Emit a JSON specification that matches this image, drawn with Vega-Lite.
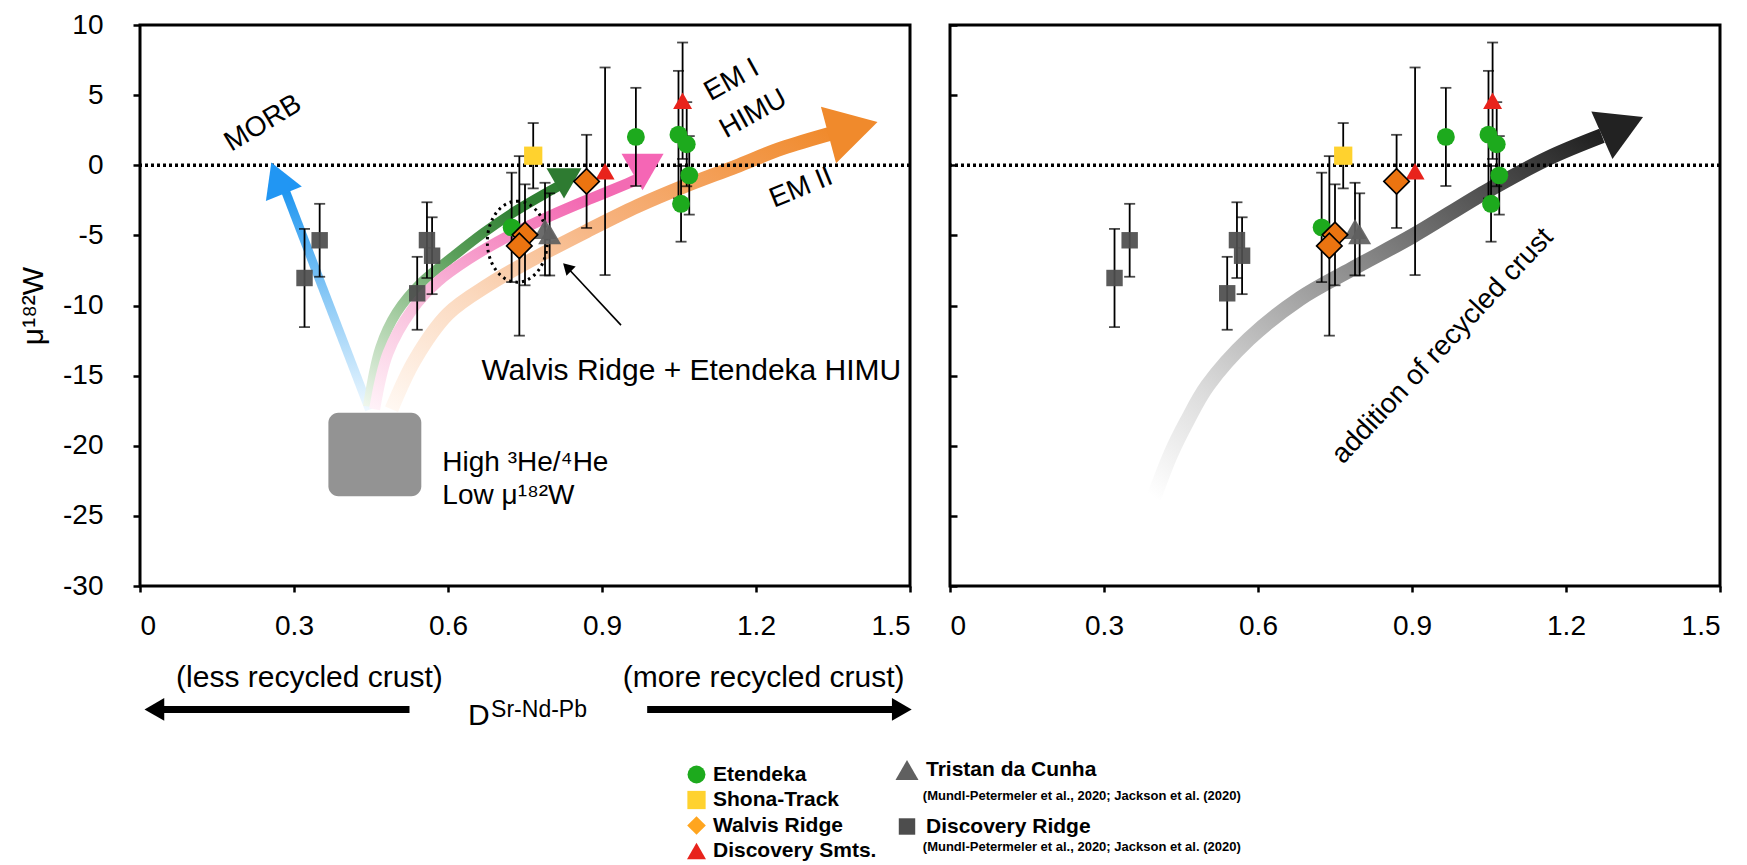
{
  "$schema": "https://vega.github.io/schema/vega-lite/v6.json",
  "background": "white",
  "padding": {"left": 17, "top": 9, "right": 5, "bottom": 0},
  "datasets": {
    "pts": [
      {"g": "Etendeka", "d": 0.724, "mu": -4.43, "err": 3.9},
      {"g": "Etendeka", "d": 0.966, "mu": 2.02, "err": 3.5},
      {"g": "Etendeka", "d": 1.049, "mu": 2.18, "err": 4.55},
      {"g": "Etendeka", "d": 1.065, "mu": 1.5, "err": 3.0},
      {"g": "Etendeka", "d": 1.07, "mu": -0.72, "err": 2.8},
      {"g": "Etendeka", "d": 1.054, "mu": -2.75, "err": 2.7},
      {"g": "Shona-Track", "d": 0.766, "mu": 0.68, "err": 2.33},
      {"g": "Walvis Ridge", "d": 0.75, "mu": -4.96, "err": 3.6},
      {"g": "Walvis Ridge", "d": 0.739, "mu": -5.75, "err": 6.4},
      {"g": "Walvis Ridge", "d": 0.87, "mu": -1.15, "err": 3.32},
      {"g": "Discovery Smts.", "d": 0.906, "mu": -0.43, "err": 7.4},
      {"g": "Discovery Smts.", "d": 1.057, "mu": 4.6, "err": 4.15},
      {"g": "Tristan da Cunha", "d": 0.789, "mu": -4.55, "err": 3.3},
      {"g": "Tristan da Cunha", "d": 0.798, "mu": -4.93, "err": 2.93},
      {"g": "Discovery Ridge", "d": 0.3205, "mu": -8.04, "err": 3.5},
      {"g": "Discovery Ridge", "d": 0.35, "mu": -5.35, "err": 2.6},
      {"g": "Discovery Ridge", "d": 0.54, "mu": -9.13, "err": 2.6},
      {"g": "Discovery Ridge", "d": 0.559, "mu": -5.34, "err": 2.7},
      {"g": "Discovery Ridge", "d": 0.569, "mu": -6.45, "err": 2.74}
    ],
    "curves": [
      {"c": "blue", "x": 0.447, "y": -17.43},
      {"c": "blue", "x": 0.283, "y": -1.8},
      {"c": "green", "x": 0.444, "y": -17.2},
      {"c": "green", "x": 0.468, "y": -13.0},
      {"c": "green", "x": 0.5, "y": -10.5},
      {"c": "green", "x": 0.55, "y": -8.3},
      {"c": "green", "x": 0.61, "y": -6.5},
      {"c": "green", "x": 0.67, "y": -4.8},
      {"c": "green", "x": 0.73, "y": -3.3},
      {"c": "green", "x": 0.79, "y": -2.0},
      {"c": "green", "x": 0.82, "y": -1.4},
      {"c": "pink", "x": 0.457, "y": -17.4},
      {"c": "pink", "x": 0.483, "y": -13.4},
      {"c": "pink", "x": 0.53, "y": -10.3},
      {"c": "pink", "x": 0.58, "y": -8.3},
      {"c": "pink", "x": 0.64, "y": -6.7},
      {"c": "pink", "x": 0.72, "y": -5.0},
      {"c": "pink", "x": 0.8, "y": -3.6},
      {"c": "pink", "x": 0.88, "y": -2.35},
      {"c": "pink", "x": 0.95, "y": -1.3},
      {"c": "pink", "x": 0.975, "y": -0.9},
      {"c": "orange", "x": 0.49, "y": -17.4},
      {"c": "orange", "x": 0.535, "y": -13.9},
      {"c": "orange", "x": 0.6, "y": -10.6},
      {"c": "orange", "x": 0.68, "y": -8.5},
      {"c": "orange", "x": 0.77, "y": -6.6},
      {"c": "orange", "x": 0.87, "y": -4.7},
      {"c": "orange", "x": 0.97, "y": -2.9},
      {"c": "orange", "x": 1.06, "y": -1.5},
      {"c": "orange", "x": 1.16, "y": -0.1},
      {"c": "orange", "x": 1.25, "y": 1.2},
      {"c": "orange", "x": 1.35, "y": 2.3},
      {"c": "black", "x": 0.397, "y": -23.7},
      {"c": "black", "x": 0.43, "y": -20.6},
      {"c": "black", "x": 0.461, "y": -18.3},
      {"c": "black", "x": 0.502, "y": -15.7},
      {"c": "black", "x": 0.582, "y": -12.4},
      {"c": "black", "x": 0.682, "y": -9.5},
      {"c": "black", "x": 0.783, "y": -7.4},
      {"c": "black", "x": 0.903, "y": -5.0},
      {"c": "black", "x": 1.043, "y": -1.9},
      {"c": "black", "x": 1.164, "y": 0.48},
      {"c": "black", "x": 1.27, "y": 2.1}
    ]
  },
  "config": {
    "view": {"stroke": "black", "strokeWidth": 3},
    "axis": {
      "grid": false, "domain": false,
      "labelFont": "Liberation Sans", "labelFontSize": 28, "labelColor": "black",
      "tickColor": "black", "tickWidth": 2.5,
      "titleFont": "Liberation Sans", "titleFontWeight": "normal", "titleColor": "black"
    },
    "text": {"font": "Liberation Sans", "color": "black"}
  },
  "spacing": 40,
  "bounds": "flush",
  "resolve": {
    "scale": {"x": "independent", "y": "independent", "color": "independent", "shape": "independent", "size": "independent"},
    "axis": {"x": "independent", "y": "independent"},
    "legend": {"color": "independent", "shape": "independent", "size": "independent"}
  },
  "hconcat": [
    {
      "width": 770,
      "height": 561,
      "resolve": {
        "scale": {"color": "independent", "shape": "independent", "size": "independent"},
        "legend": {"color": "independent", "shape": "independent", "size": "independent"}
      },
      "layer": [
        {
          "data": {"name": "curves"},
          "transform": [{"filter": "datum.c === 'blue'"}],
          "mark": {"type": "line", "strokeWidth": 9, "strokeCap": "butt",
            "stroke": {"gradient": "linear", "x1": 0, "y1": 1, "x2": 0, "y2": 0,
              "stops": [{"offset": 0, "color": "#eef8ff"}, {"offset": 0.5, "color": "#8ccaf6"}, {"offset": 1, "color": "#1f96f0"}]}},
          "encoding": {
            "x": {"field": "x", "type": "quantitative",
              "scale": {"domain": [0, 1.5], "nice": false, "zero": false},
              "axis": {"values": [0, 0.3, 0.6, 0.9, 1.2, 1.5], "labelExpr": "toString(datum.value)", "title": null, "tickSize": 6, "labelPadding": 20}},
            "y": {"field": "y", "type": "quantitative", "title": "μ¹⁸²W",
              "scale": {"domain": [-30, 10], "nice": false, "zero": false},
              "axis": {"values": [-30, -25, -20, -15, -10, -5, 0, 5, 10], "labelExpr": "toString(datum.value)", "title": "μ¹⁸²W", "titleFontSize": 30, "titlePadding": 14, "tickSize": 7, "labelPadding": 30}}
          }
        },
        {
          "data": {"name": "curves"},
          "transform": [{"filter": "datum.c === 'green'"}],
          "mark": {"type": "line", "strokeWidth": 10, "strokeCap": "butt", "interpolate": "catmull-rom",
            "stroke": {"gradient": "linear", "x1": 0, "y1": 1, "x2": 0.6, "y2": 0,
              "stops": [{"offset": 0, "color": "#eef6ec"}, {"offset": 0.35, "color": "#a9cfa6"}, {"offset": 0.7, "color": "#5a9f5a"}, {"offset": 1, "color": "#2f7f32"}]}},
          "encoding": {"x": {"field": "x", "type": "quantitative"}, "y": {"field": "y", "type": "quantitative", "title": "μ¹⁸²W"}}
        },
        {
          "data": {"name": "curves"},
          "transform": [{"filter": "datum.c === 'pink'"}],
          "mark": {"type": "line", "strokeWidth": 11, "strokeCap": "butt", "interpolate": "catmull-rom",
            "stroke": {"gradient": "linear", "x1": 0, "y1": 1, "x2": 0.6, "y2": 0,
              "stops": [{"offset": 0, "color": "#fff2f8"}, {"offset": 0.4, "color": "#f9bfdc"}, {"offset": 1, "color": "#f36bb3"}]}},
          "encoding": {"x": {"field": "x", "type": "quantitative"}, "y": {"field": "y", "type": "quantitative", "title": "μ¹⁸²W"}}
        },
        {
          "data": {"name": "curves"},
          "transform": [{"filter": "datum.c === 'orange'"}],
          "mark": {"type": "line", "strokeWidth": 14, "strokeCap": "butt", "interpolate": "catmull-rom",
            "stroke": {"gradient": "linear", "x1": 0, "y1": 1, "x2": 1, "y2": 0,
              "stops": [{"offset": 0, "color": "#fff8f2"}, {"offset": 0.3, "color": "#fbd8bd"}, {"offset": 0.6, "color": "#f6b07a"}, {"offset": 1, "color": "#f08a2c"}]}},
          "encoding": {"x": {"field": "x", "type": "quantitative"}, "y": {"field": "y", "type": "quantitative", "title": "μ¹⁸²W"}}
        },
        {
          "data": {"values": [{}]},
          "mark": {"type": "rule", "strokeDash": [3, 3], "strokeWidth": 3.5, "color": "black"},
          "encoding": {"y": {"datum": 0}}
        },
        {
          "data": {"values": [{}]},
          "mark": {"type": "point", "shape": "triangle-up", "angle": -22, "size": 1500, "filled": true, "opacity": 1, "color": "#2196f3"},
          "encoding": {"x": {"datum": 0.268}, "y": {"datum": -0.92}}
        },
        {
          "data": {"values": [{}]},
          "mark": {"type": "point", "shape": "triangle-down", "size": 1225, "filled": true, "opacity": 1, "color": "#2e7b31"},
          "encoding": {"x": {"datum": 0.826}, "y": {"datum": -1.29}}
        },
        {
          "data": {"values": [{}]},
          "mark": {"type": "point", "shape": "triangle-down", "size": 1764, "filled": true, "opacity": 1, "color": "#f566b5"},
          "encoding": {"x": {"datum": 0.979}, "y": {"datum": -0.48}}
        },
        {
          "data": {"values": [{}]},
          "mark": {"type": "point", "shape": "triangle-up", "angle": 75, "size": 3434, "filled": true, "opacity": 1, "color": "#f08a2c"},
          "encoding": {"x": {"datum": 1.389}, "y": {"datum": 2.62}}
        },
        {
          "data": {"values": [{}]},
          "mark": {"type": "point", "shape": "M0,-1C0.4087,-1 0.74,-0.5523 0.74,0C0.74,0.5523 0.4087,1 0,1C-0.4087,1 -0.74,0.5523 -0.74,0C-0.74,-0.5523 -0.4087,-1 0,-1Z", "size": 6561, "filled": false, "opacity": 1, "stroke": "black", "strokeWidth": 3, "strokeDash": [2.5, 4]},
          "encoding": {"x": {"datum": 0.735}, "y": {"datum": -5.45}}
        },
        {
          "data": {"values": [{}]},
          "mark": {"type": "rule", "color": "black", "strokeWidth": 1.6},
          "encoding": {"x": {"datum": 0.937}, "y": {"datum": -11.4}, "x2": {"datum": 0.832}, "y2": {"datum": -7.27}}
        },
        {
          "data": {"values": [{}]},
          "mark": {"type": "point", "shape": "triangle-up", "angle": -45, "size": 170, "filled": true, "opacity": 1, "color": "black"},
          "encoding": {"x": {"datum": 0.832}, "y": {"datum": -7.27}}
        },
        {
          "data": {"values": [{}]},
          "mark": {"type": "rect", "color": "#939393", "cornerRadius": 10},
          "encoding": {"x": {"datum": 0.367}, "x2": {"datum": 0.548}, "y": {"datum": -17.65}, "y2": {"datum": -23.6}}
        },
        {
          "data": {"values": [{}]},
          "mark": {"type": "text", "text": "High ³He/⁴He", "align": "left", "baseline": "middle", "fontSize": 28},
          "encoding": {"x": {"datum": 0.589}, "y": {"datum": -21.2}}
        },
        {
          "data": {"values": [{}]},
          "mark": {"type": "text", "text": "Low μ¹⁸²W", "align": "left", "baseline": "middle", "fontSize": 28},
          "encoding": {"x": {"datum": 0.589}, "y": {"datum": -23.6}}
        },
        {
          "data": {"values": [{}]},
          "mark": {"type": "text", "text": "MORB", "align": "center", "baseline": "middle", "fontSize": 28, "angle": -31},
          "encoding": {"x": {"datum": 0.24}, "y": {"datum": 2.98}}
        },
        {
          "data": {"values": [{}]},
          "mark": {"type": "text", "text": "EM I", "align": "center", "baseline": "middle", "fontSize": 28, "angle": -29},
          "encoding": {"x": {"datum": 1.153}, "y": {"datum": 6.06}}
        },
        {
          "data": {"values": [{}]},
          "mark": {"type": "text", "text": "HIMU", "align": "center", "baseline": "middle", "fontSize": 28, "angle": -29},
          "encoding": {"x": {"datum": 1.195}, "y": {"datum": 3.65}}
        },
        {
          "data": {"values": [{}]},
          "mark": {"type": "text", "text": "EM II", "align": "center", "baseline": "middle", "fontSize": 28, "angle": -22},
          "encoding": {"x": {"datum": 1.288}, "y": {"datum": -1.62}}
        },
        {
          "data": {"values": [{}]},
          "mark": {"type": "text", "text": "Walvis Ridge + Etendeka HIMU", "align": "center", "baseline": "middle", "fontSize": 30},
          "encoding": {"x": {"datum": 1.074}, "y": {"datum": -14.7}}
        },
        {
          "data": {"name": "pts"},
          "mark": {"type": "errorbar", "ticks": true, "size": 11, "thickness": 1.8, "color": "black"},
          "encoding": {"x": {"field": "d", "type": "quantitative"}, "y": {"field": "mu", "type": "quantitative", "title": "μ¹⁸²W"}, "yError": {"field": "err"}}
        },
        {
          "data": {"name": "pts"},
          "transform": [{"filter": {"field": "g", "oneOf": ["Tristan da Cunha", "Discovery Ridge"]}}],
          "mark": {"type": "point", "filled": true, "opacity": 0.93, "strokeWidth": 0},
          "encoding": {
            "x": {"field": "d", "type": "quantitative"},
            "y": {"field": "mu", "type": "quantitative", "title": "μ¹⁸²W"},
            "color": {"field": "g", "type": "nominal", "scale": {"domain": ["Tristan da Cunha", "Discovery Ridge"], "range": ["#606060", "#4d4d4d"]},
              "legend": {"orient": "none", "legendX": 755, "legendY": 733, "title": null, "symbolSize": 300, "labelFont": "Liberation Sans", "labelFontSize": 21, "labelFontWeight": "bold", "labelColor": "black", "rowPadding": 35, "labelOffset": 7, "padding": 0, "symbolStrokeWidth": 0, "symbolOpacity": 1, "labelLimit": 400}},
            "shape": {"field": "g", "type": "nominal", "scale": {"domain": ["Tristan da Cunha", "Discovery Ridge"], "range": ["triangle-up", "square"]},
              "legend": {"orient": "none", "legendX": 755, "legendY": 733, "title": null, "symbolSize": 300, "labelFont": "Liberation Sans", "labelFontSize": 21, "labelFontWeight": "bold", "labelColor": "black", "rowPadding": 35, "labelOffset": 7, "padding": 0, "symbolStrokeWidth": 0, "symbolOpacity": 1, "labelLimit": 400}},
            "size": {"field": "g", "type": "nominal", "scale": {"domain": ["Tristan da Cunha", "Discovery Ridge"], "range": [530, 270]}, "legend": null}
          }
        },
        {
          "data": {"name": "pts"},
          "transform": [{"filter": {"field": "g", "oneOf": ["Etendeka", "Shona-Track", "Walvis Ridge", "Discovery Smts."]}}],
          "mark": {"type": "point", "filled": true, "opacity": 1, "strokeWidth": 0},
          "encoding": {
            "x": {"field": "d", "type": "quantitative"},
            "y": {"field": "mu", "type": "quantitative", "title": "μ¹⁸²W"},
            "color": {"field": "g", "type": "nominal", "scale": {"domain": ["Etendeka", "Shona-Track", "Walvis Ridge", "Discovery Smts."], "range": ["#1daa1d", "#ffd22e", "#ffa51f", "#e8231c"]},
              "legend": {"orient": "none", "legendX": 546, "legendY": 739, "title": null, "symbolSize": 300, "labelFont": "Liberation Sans", "labelFontSize": 21, "labelFontWeight": "bold", "labelColor": "black", "rowPadding": 3.5, "labelOffset": 6, "padding": 0, "symbolStrokeWidth": 0, "symbolOpacity": 1, "labelLimit": 400}},
            "shape": {"field": "g", "type": "nominal", "scale": {"domain": ["Etendeka", "Shona-Track", "Walvis Ridge", "Discovery Smts."], "range": ["circle", "square", "diamond", "triangle-up"]},
              "legend": {"orient": "none", "legendX": 546, "legendY": 739, "title": null, "symbolSize": 300, "labelFont": "Liberation Sans", "labelFontSize": 21, "labelFontWeight": "bold", "labelColor": "black", "rowPadding": 3.5, "labelOffset": 6, "padding": 0, "symbolStrokeWidth": 0, "symbolOpacity": 1, "labelLimit": 400}},
            "size": {"field": "g", "type": "nominal", "scale": {"domain": ["Etendeka", "Shona-Track", "Walvis Ridge", "Discovery Smts."], "range": [320, 360, 650, 470]}, "legend": null}
          }
        },
        {
          "data": {"name": "pts"},
          "transform": [{"filter": "datum.g === 'Walvis Ridge'"}],
          "mark": {"type": "point", "shape": "diamond", "filled": true, "fill": "#eb7410", "stroke": "black", "strokeWidth": 1.6, "size": 650, "opacity": 1},
          "encoding": {"x": {"field": "d", "type": "quantitative"}, "y": {"field": "mu", "type": "quantitative", "title": "μ¹⁸²W"}}
        },
        {
          "data": {"values": [{}]},
          "mark": {"type": "text", "text": "(less recycled crust)", "align": "center", "baseline": "middle", "fontSize": 30},
          "encoding": {"x": {"datum": 0.33}, "y": {"datum": -36.55}}
        },
        {
          "data": {"values": [{}]},
          "mark": {"type": "text", "text": "(more recycled crust)", "align": "center", "baseline": "middle", "fontSize": 30},
          "encoding": {"x": {"datum": 1.215}, "y": {"datum": -36.55}}
        },
        {
          "data": {"values": [{}]},
          "mark": {"type": "rule", "color": "black", "strokeWidth": 7},
          "encoding": {"x": {"datum": 0.525}, "x2": {"datum": 0.03}, "y": {"datum": -38.8}}
        },
        {
          "data": {"values": [{}]},
          "mark": {"type": "point", "shape": "triangle-left", "size": 520, "filled": true, "opacity": 1, "color": "black"},
          "encoding": {"x": {"datum": 0.028}, "y": {"datum": -38.8}}
        },
        {
          "data": {"values": [{}]},
          "mark": {"type": "rule", "color": "black", "strokeWidth": 7},
          "encoding": {"x": {"datum": 0.988}, "x2": {"datum": 1.48}, "y": {"datum": -38.8}}
        },
        {
          "data": {"values": [{}]},
          "mark": {"type": "point", "shape": "triangle-right", "size": 520, "filled": true, "opacity": 1, "color": "black"},
          "encoding": {"x": {"datum": 1.484}, "y": {"datum": -38.8}}
        },
        {
          "data": {"values": [{}]},
          "mark": {"type": "text", "text": "D", "align": "right", "baseline": "alphabetic", "fontSize": 30},
          "encoding": {"x": {"datum": 0.681}, "y": {"datum": -39.9}}
        },
        {
          "data": {"values": [{}]},
          "mark": {"type": "text", "text": "Sr-Nd-Pb", "align": "left", "baseline": "alphabetic", "fontSize": 23},
          "encoding": {"x": {"datum": 0.684}, "y": {"datum": -39.35}}
        },
        {
          "data": {"values": [{}]},
          "mark": {"type": "text", "text": "(Mundl-Petermeler et al., 2020; Jackson et al. (2020)", "align": "left", "baseline": "middle", "fontSize": 13, "fontWeight": "bold"},
          "encoding": {"x": {"datum": 1.525}, "y": {"datum": -45.0}}
        },
        {
          "data": {"values": [{}]},
          "mark": {"type": "text", "text": "(Mundl-Petermeler et al., 2020; Jackson et al. (2020)", "align": "left", "baseline": "middle", "fontSize": 13, "fontWeight": "bold"},
          "encoding": {"x": {"datum": 1.525}, "y": {"datum": -48.6}}
        }
      ]
    },
    {
      "width": 770,
      "height": 561,
      "resolve": {
        "scale": {"color": "independent", "shape": "independent", "size": "independent"},
        "legend": {"color": "independent", "shape": "independent", "size": "independent"}
      },
      "layer": [
        {
          "data": {"name": "curves"},
          "transform": [{"filter": "datum.c === 'black'"}],
          "mark": {"type": "line", "strokeWidth": 15, "strokeCap": "butt", "interpolate": "catmull-rom",
            "stroke": {"gradient": "linear", "x1": 0, "y1": 1, "x2": 1, "y2": 0,
              "stops": [{"offset": 0, "color": "#ffffff"}, {"offset": 0.2, "color": "#dcdcdc"}, {"offset": 0.55, "color": "#8a8a8a"}, {"offset": 1, "color": "#1f1f1f"}]}},
          "encoding": {
            "x": {"field": "x", "type": "quantitative",
              "scale": {"domain": [0, 1.5], "nice": false, "zero": false},
              "axis": {"values": [0, 0.3, 0.6, 0.9, 1.2, 1.5], "labelExpr": "toString(datum.value)", "title": null, "tickSize": 6, "labelPadding": 20}},
            "y": {"field": "y", "type": "quantitative",
              "scale": {"domain": [-30, 10], "nice": false, "zero": false},
              "axis": {"values": [-30, -25, -20, -15, -10, -5, 0, 5, 10], "labels": false, "title": null, "tickSize": -7}}
          }
        },
        {
          "data": {"values": [{}]},
          "mark": {"type": "point", "shape": "triangle-up", "angle": 66, "size": 2704, "filled": true, "opacity": 1, "color": "#222222"},
          "encoding": {"x": {"datum": 1.31}, "y": {"datum": 2.79}}
        },
        {
          "data": {"values": [{}]},
          "mark": {"type": "rule", "strokeDash": [3, 3], "strokeWidth": 3.5, "color": "black"},
          "encoding": {"y": {"datum": 0}}
        },
        {
          "data": {"values": [{}]},
          "mark": {"type": "text", "text": "addition of recycled crust", "align": "center", "baseline": "middle", "fontSize": 28, "angle": -47},
          "encoding": {"x": {"datum": 0.96}, "y": {"datum": -12.9}}
        },
        {
          "data": {"name": "pts"},
          "mark": {"type": "errorbar", "ticks": true, "size": 11, "thickness": 1.8, "color": "black"},
          "encoding": {"x": {"field": "d", "type": "quantitative"}, "y": {"field": "mu", "type": "quantitative"}, "yError": {"field": "err"}}
        },
        {
          "data": {"name": "pts"},
          "transform": [{"filter": {"field": "g", "oneOf": ["Tristan da Cunha", "Discovery Ridge"]}}],
          "mark": {"type": "point", "filled": true, "opacity": 0.93, "strokeWidth": 0},
          "encoding": {
            "x": {"field": "d", "type": "quantitative"},
            "y": {"field": "mu", "type": "quantitative"},
            "color": {"field": "g", "type": "nominal", "scale": {"domain": ["Tristan da Cunha", "Discovery Ridge"], "range": ["#606060", "#4d4d4d"]}, "legend": null},
            "shape": {"field": "g", "type": "nominal", "scale": {"domain": ["Tristan da Cunha", "Discovery Ridge"], "range": ["triangle-up", "square"]}, "legend": null},
            "size": {"field": "g", "type": "nominal", "scale": {"domain": ["Tristan da Cunha", "Discovery Ridge"], "range": [530, 270]}, "legend": null}
          }
        },
        {
          "data": {"name": "pts"},
          "transform": [{"filter": {"field": "g", "oneOf": ["Etendeka", "Shona-Track", "Walvis Ridge", "Discovery Smts."]}}],
          "mark": {"type": "point", "filled": true, "opacity": 1, "strokeWidth": 0},
          "encoding": {
            "x": {"field": "d", "type": "quantitative"},
            "y": {"field": "mu", "type": "quantitative"},
            "color": {"field": "g", "type": "nominal", "scale": {"domain": ["Etendeka", "Shona-Track", "Walvis Ridge", "Discovery Smts."], "range": ["#1daa1d", "#ffd22e", "#ffa51f", "#e8231c"]}, "legend": null},
            "shape": {"field": "g", "type": "nominal", "scale": {"domain": ["Etendeka", "Shona-Track", "Walvis Ridge", "Discovery Smts."], "range": ["circle", "square", "diamond", "triangle-up"]}, "legend": null},
            "size": {"field": "g", "type": "nominal", "scale": {"domain": ["Etendeka", "Shona-Track", "Walvis Ridge", "Discovery Smts."], "range": [320, 360, 650, 470]}, "legend": null}
          }
        },
        {
          "data": {"name": "pts"},
          "transform": [{"filter": "datum.g === 'Walvis Ridge'"}],
          "mark": {"type": "point", "shape": "diamond", "filled": true, "fill": "#eb7410", "stroke": "black", "strokeWidth": 1.6, "size": 650, "opacity": 1},
          "encoding": {"x": {"field": "d", "type": "quantitative"}, "y": {"field": "mu", "type": "quantitative"}}
        }
      ]
    }
  ]
}
